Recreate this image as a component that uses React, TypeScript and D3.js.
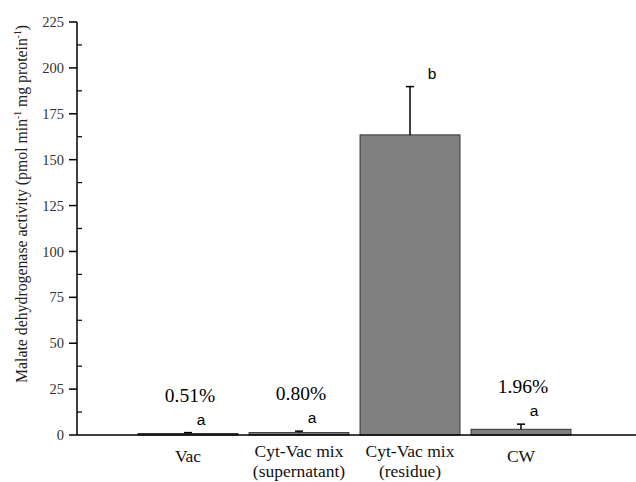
import React, { useEffect, useRef } from "react";
import * as d3 from "d3";

const width = 636;
const height = 482;

const categories = ["Vac", "Cyt-Vac mix|(supernatant)", "Cyt-Vac mix|(residue)", "CW"];
const values = [0.8, 1.3, 163.5, 3.1];
const errors = [0.5, 0.8, 26.3, 2.8];
const letters = ["a", "a", "b", "a"];
const percents = ["0.51%", "0.80%", "", "1.96%"];
const yTicks = [0, 25, 50, 75, 100, 125, 150, 175, 200, 225];

export default function App() {
  const ref = useRef<SVGSVGElement>(null);

  useEffect(() => {
    const svg = d3.select(ref.current);
    svg.selectAll("*").remove();

    const y = d3.scaleLinear().domain([0, 225]).range([435, 22]);
    const x = d3
      .scaleBand()
      .domain(categories)
      .range([132.5, 576.5])
      .paddingInner(0.1)
      .paddingOuter(0.05);
    const serif = "Liberation Serif, serif";

    // bars
    svg
      .selectAll(".bar")
      .data(categories)
      .enter()
      .append("rect")
      .attr("x", (d) => x(d)!)
      .attr("y", (d, i) => y(values[i]))
      .attr("width", x.bandwidth())
      .attr("height", (d, i) => y(0) - y(values[i]))
      .attr("fill", "#808080")
      .attr("stroke", "#333")
      .attr("stroke-width", 1);

    // error bars (upper only)
    const eb = svg.append("g").attr("stroke", "#000").attr("stroke-width", 1.5);
    categories.forEach((c, i) => {
      const cx = x(c)! + x.bandwidth() / 2;
      eb.append("line")
        .attr("x1", cx).attr("x2", cx)
        .attr("y1", y(values[i])).attr("y2", y(values[i] + errors[i]));
      eb.append("line")
        .attr("x1", cx - 4).attr("x2", cx + 4)
        .attr("y1", y(values[i] + errors[i])).attr("y2", y(values[i] + errors[i]));
    });

    // significance letters
    svg
      .selectAll(".letter")
      .data(categories)
      .enter()
      .append("text")
      .attr("x", (d, i) => x(d)! + x.bandwidth() / 2 + (values[i] > 50 ? 22 : 13))
      .attr("y", (d, i) => y(values[i] + errors[i]) - 8)
      .attr("text-anchor", "middle")
      .attr("font-family", "Liberation Sans, Arial, sans-serif")
      .attr("font-size", 15.5)
      .text((d, i) => letters[i]);

    // percents
    svg
      .selectAll(".pct")
      .data(categories)
      .enter()
      .append("text")
      .attr("x", (d) => x(d)! + x.bandwidth() / 2 + 2)
      .attr("y", (d, i) => y(values[i] + errors[i]) - 31)
      .attr("text-anchor", "middle")
      .attr("font-family", serif)
      .attr("font-size", 19.5)
      .text((d, i) => percents[i]);

    // y axis
    const ax = svg.append("g").attr("stroke", "#000");
    ax.append("line")
      .attr("x1", 77).attr("x2", 77)
      .attr("y1", y(225)).attr("y2", y(0))
      .attr("stroke-width", 1.5);
    yTicks.forEach((t) => {
      ax.append("line")
        .attr("x1", 69).attr("x2", 77)
        .attr("y1", y(t)).attr("y2", y(t))
        .attr("stroke-width", 1.5);
      if (t < 225) {
        ax.append("line")
          .attr("x1", 77).attr("x2", 82)
          .attr("y1", y(t + 12.5)).attr("y2", y(t + 12.5))
          .attr("stroke-width", 1.2);
      }
    });
    svg
      .selectAll(".ytl")
      .data(yTicks)
      .enter()
      .append("text")
      .attr("x", 64)
      .attr("y", (d) => y(d))
      .attr("dy", "0.35em")
      .attr("text-anchor", "end")
      .attr("font-family", serif)
      .attr("font-size", 14.5)
      .attr("fill", "#333")
      .text((d) => d);

    // x axis line
    svg.append("line")
      .attr("x1", 77).attr("x2", width)
      .attr("y1", y(0)).attr("y2", y(0))
      .attr("stroke", "#000").attr("stroke-width", 1.5);

    // category labels
    categories.forEach((c) => {
      const parts = c.split("|");
      const t = svg
        .append("text")
        .attr("text-anchor", "middle")
        .attr("font-family", serif)
        .attr("font-size", 17.5)
        .attr("fill", "#111");
      parts.forEach((p, j) => {
        t.append("tspan")
          .attr("x", x(c)! + x.bandwidth() / 2)
          .attr("y", parts.length === 1 ? 462 : 457 + j * 20)
          .text(p);
      });
    });

    // y axis title
    const title = svg
      .append("text")
      .attr("transform", "translate(27,204) rotate(-90)")
      .attr("text-anchor", "middle")
      .attr("font-family", serif)
      .attr("font-size", 15.8)
      .attr("fill", "#222");
    title.append("tspan").text("Malate dehydrogenase activity (pmol min");
    title.append("tspan").attr("dy", -6).attr("font-size", 9.5).text("-1");
    title.append("tspan").attr("dy", 6).text(" mg protein");
    title.append("tspan").attr("dy", -6).attr("font-size", 9.5).text("-1");
    title.append("tspan").attr("dy", 6).text(")");
  }, []);

  return (
    <svg
      ref={ref}
      width={width}
      height={height}
      style={{ position: "absolute", left: 0, top: 0, background: "#fff" }}
    />
  );
}
